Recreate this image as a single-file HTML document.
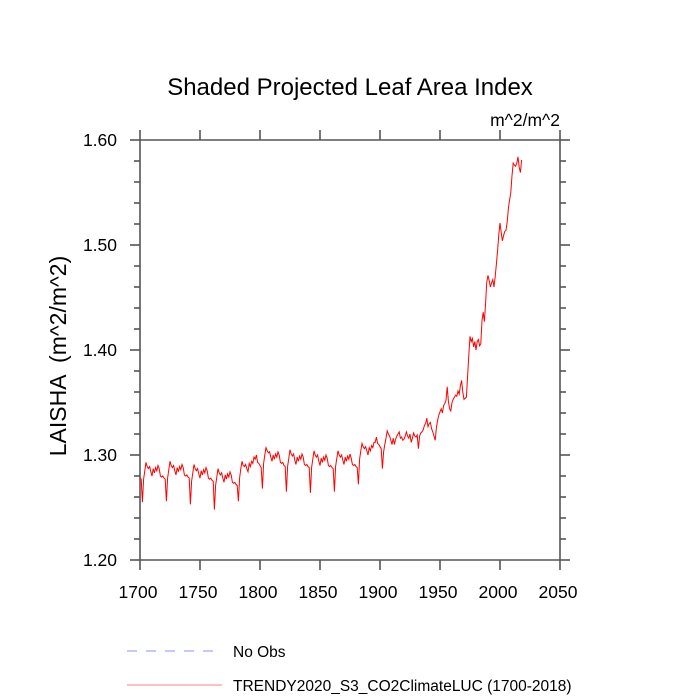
<!DOCTYPE html>
<html><head><meta charset="utf-8"><style>
html,body{margin:0;padding:0;background:#fff;}
svg{display:block;font-family:"Liberation Sans",Arial,sans-serif;}
</style></head><body>
<svg id="chart" width="700" height="700" viewBox="0 0 700 700">
<text x="350" y="95" text-anchor="middle" font-size="24">Shaded Projected Leaf Area Index</text>
<text x="560" y="126" text-anchor="end" font-size="17.5">m^2/m^2</text>
<text transform="translate(66,356) rotate(-90)" text-anchor="middle" font-size="23" style="white-space:pre" xml:space="preserve">LAISHA  (m^2/m^2)</text>
<g id="axes"></g>
<path id="series" fill="none" stroke="#ff0000" stroke-width="1"></path>
<g>
<line x1="127" y1="651" x2="222" y2="651" stroke="#8f8fff" stroke-width="1" stroke-dasharray="10,9"/>
<text x="233" y="657" font-size="15.5">No Obs</text>
<line x1="127" y1="685" x2="222" y2="685" stroke="#ff8080" stroke-width="1"/>
<text x="233" y="691" font-size="15.5">TRENDY2020_S3_CO2ClimateLUC (1700-2018)</text>
</g>
</svg>
<script>
const startYear = 1700;
const xTicks = [1700,1750,1800,1850,1900,1950,2000,2050];
const yTicks = [1.20,1.30,1.40,1.50,1.60];
const yTickLabels = ["1.20","1.30","1.40","1.50","1.60"];
const laiValues = [
1.278,1.277,
1.255,1.277,1.285,1.293,1.289,1.287,1.289,1.284,1.280,1.287,1.283,1.288,1.285,1.290,1.287,1.280,1.279,1.280,1.278,1.277,
1.256,1.278,1.286,1.294,1.290,1.288,1.290,1.285,1.281,1.288,1.284,1.289,1.286,1.291,1.288,1.281,1.280,1.281,1.279,1.278,
1.253,1.275,1.283,1.291,1.287,1.285,1.287,1.282,1.278,1.285,1.281,1.286,1.283,1.288,1.285,1.278,1.277,1.278,1.276,1.275,
1.248,1.271,1.279,1.287,1.283,1.281,1.283,1.278,1.274,1.281,1.277,1.282,1.279,1.284,1.281,1.274,1.273,1.274,1.272,1.271,
1.256,1.278,1.287,1.294,1.290,1.289,1.291,1.287,1.284,1.292,1.289,1.294,1.292,1.298,1.296,1.300,1.293,1.292,1.290,1.288,
1.268,1.292,1.300,1.307,1.304,1.302,1.303,1.298,1.294,1.300,1.296,1.301,1.298,1.303,1.300,1.293,1.292,1.293,1.290,1.289,
1.265,1.289,1.297,1.305,1.301,1.299,1.301,1.295,1.291,1.298,1.294,1.299,1.296,1.301,1.298,1.291,1.290,1.291,1.289,1.288,
1.264,1.288,1.296,1.304,1.300,1.298,1.300,1.294,1.290,1.297,1.293,1.298,1.295,1.300,1.297,1.290,1.289,1.290,1.288,1.287,
1.265,1.289,1.297,1.304,1.300,1.298,1.300,1.295,1.291,1.298,1.294,1.299,1.296,1.301,1.297,1.291,1.290,1.291,1.289,1.288,
1.272,1.296,1.304,1.311,1.308,1.306,1.308,1.304,1.300,1.307,1.304,1.309,1.307,1.312,1.312,1.317,1.311,1.310,1.308,1.306,
1.287,1.303,1.310,1.316,1.323,1.320,1.318,1.314,1.310,1.316,1.310,1.315,1.318,1.320,1.322,1.316,1.317,1.314,1.315,1.318,
1.322,1.318,1.316,1.320,1.312,1.316,1.321,1.318,1.317,1.319,1.306,1.318,1.321,1.322,1.324,1.328,1.330,1.335,1.327,1.330,
1.331,1.325,1.322,1.318,1.314,1.326,1.333,1.338,
1.341,1.344,1.340,1.347,1.349,1.352,1.365,1.351,1.344,1.342,
1.350,1.353,1.355,1.357,1.356,1.361,1.358,1.366,1.371,1.360,
1.353,1.354,1.355,1.375,1.395,1.413,1.408,1.411,1.403,1.408,
1.400,1.408,1.410,1.404,1.406,1.428,1.436,1.427,1.445,1.465,
1.471,1.466,1.460,1.464,1.467,1.460,1.470,1.482,1.495,1.510,
1.521,1.512,1.504,1.509,1.513,1.514,1.522,1.535,1.543,1.550,
1.566,1.578,1.576,1.575,1.578,1.584,1.574,1.569,1.581
];
const NS = "http://www.w3.org/2000/svg";
const L = 140, R = 560, T = 140, B = 560;
function xScale(yr){ return L + (yr - 1700) / 350 * (R - L); }
function yScale(v){ return B - (v - 1.2) / 0.4 * (B - T); }
const axes = document.getElementById('axes');
function ln(x1,y1,x2,y2,name){
  const l = document.createElementNS(NS,'line');
  l.setAttribute('x1',x1);l.setAttribute('y1',y1);l.setAttribute('x2',x2);l.setAttribute('y2',y2);
  l.setAttribute('stroke','#555');l.setAttribute('stroke-width','1.6');
  
  
  axes.appendChild(l);
}
ln(L,T,R,T,'plot-frame-top');ln(L,B,R,B,'plot-frame-bottom');
ln(L,T,L,B,'plot-frame-left');ln(R,T,R,B,'plot-frame-right');
xTicks.forEach(function(t){
  const x = xScale(t);
  ln(x,B,x,B+10,'x-tick');ln(x,T,x,T-10,'x-tick-top');
  const tx = document.createElementNS(NS,'text');
  tx.setAttribute('x',x-2);tx.setAttribute('y',B+38);tx.setAttribute('text-anchor','middle');tx.setAttribute('font-size','17.5');
  tx.textContent = t;
  
  
  axes.appendChild(tx);
});
yTicks.forEach(function(t,i){
  const y = yScale(t);
  ln(L-10,y,L,y,'y-tick');ln(R,y,R+10,y,'y-tick-right');
  const tx = document.createElementNS(NS,'text');
  tx.setAttribute('x',L-23);tx.setAttribute('y',y+6);tx.setAttribute('text-anchor','end');tx.setAttribute('font-size','17.5');
  tx.textContent = yTickLabels[i];
  
  
  axes.appendChild(tx);
});
for(let k=1;k<20;k++){
  if(k%5===0) continue;
  const y = yScale(1.2 + k*0.02);
  ln(L-6,y,L,y,'y-minor-tick');ln(R,y,R+6,y,'y-minor-tick-right');
}
let d = '';
laiValues.forEach(function(v,i){
  d += (i?'L':'M') + xScale(startYear+i).toFixed(2) + ',' + yScale(v).toFixed(2);
});
document.getElementById('series').setAttribute('d', d);
</script>
</body></html>
